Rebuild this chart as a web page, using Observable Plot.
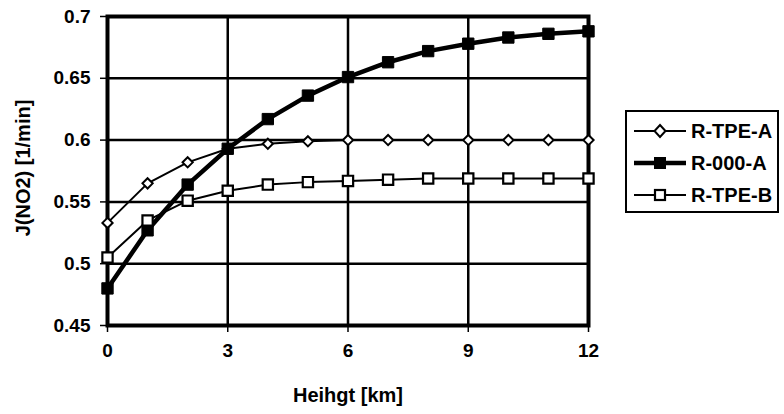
<!DOCTYPE html>
<html>
<head>
<meta charset="utf-8">
<script src="https://cdn.jsdelivr.net/npm/d3@7"></script>
<script src="https://cdn.jsdelivr.net/npm/@observablehq/plot@0.6"></script>
<style>
  body { margin: 0; background: #fff; }
  #wrap { position: relative; width: 784px; height: 414px; font-family: "Liberation Sans", Arial, sans-serif; }
  #legend {
    position: absolute; left: 625px; top: 110px; width: 154px; height: 103px;
    box-sizing: border-box; border: 2px solid #000; background: #fff;
    padding-top: 3px;
  }
  .item { display: flex; align-items: center; height: 32px; }
  .item svg { margin-left: 6px; }
  .item span { font-size: 20px; font-weight: bold; color: #000; margin-left: 4px; }
  #wrap svg.chart text { font-weight: bold; }
</style>
</head>
<body>
<div id="wrap"></div>
<script>
// Photolysis frequency J(NO2) versus height for three runs
const heights = [0, 1, 2, 3, 4, 5, 6, 7, 8, 9, 10, 11, 12];
const rTpeA = [0.533, 0.565, 0.582, 0.593, 0.597, 0.599, 0.600, 0.600, 0.600, 0.600, 0.600, 0.600, 0.600];
const r000A = [0.480, 0.527, 0.564, 0.593, 0.617, 0.636, 0.651, 0.663, 0.672, 0.678, 0.683, 0.686, 0.688];
const rTpeB = [0.505, 0.535, 0.551, 0.559, 0.564, 0.566, 0.567, 0.568, 0.569, 0.569, 0.569, 0.569, 0.569];

const seriesNames = ["R-TPE-A", "R-000-A", "R-TPE-B"];
const xTicks = [0, 3, 6, 9, 12];
const yTicks = [0.45, 0.5, 0.55, 0.6, 0.65, 0.7];

const rows = (name, vals) => heights.map((h, i) => ({series: name, h, j: vals[i]}));
const dataA = rows(seriesNames[0], rTpeA);
const data0 = rows(seriesNames[1], r000A);
const dataB = rows(seriesNames[2], rTpeB);

const font = "Liberation Sans, Arial, sans-serif";

const chart = Plot.plot({
  className: "chart",
  width: 784,
  height: 414,
  marginLeft: 107,
  marginRight: 196,
  marginTop: 16,
  marginBottom: 89,
  style: {fontFamily: font, fontSize: "19px", fontWeight: "bold", color: "#000", background: "#fff"},
  x: {domain: [0, 12]},
  y: {domain: [0.45, 0.7]},
  marks: [
    Plot.gridX(xTicks, {stroke: "#000", strokeOpacity: 1, strokeWidth: 2.5}),
    Plot.gridY(yTicks, {stroke: "#000", strokeOpacity: 1, strokeWidth: 2.5}),
    Plot.frame({stroke: "#000", strokeWidth: 4}),
    Plot.axisX(xTicks, {tickSize: 7, tickPadding: 11, strokeWidth: 1.5, label: null, tickFormat: d => String(d)}),
    Plot.axisY(yTicks, {tickSize: 7, tickPadding: 10, strokeWidth: 1.5, label: null, tickFormat: d => String(+d.toFixed(2))}),
    // series lines
    Plot.line(dataA, {x: "h", y: "j", stroke: "#000", strokeWidth: 2}),
    Plot.line(data0, {x: "h", y: "j", stroke: "#000", strokeWidth: 4.5}),
    Plot.line(dataB, {x: "h", y: "j", stroke: "#000", strokeWidth: 2}),
    // series markers
    Plot.dot(dataA, {x: "h", y: "j", symbol: "diamond2", r: 4.6, fill: "#fff", stroke: "#000", strokeWidth: 2}),
    Plot.dot(data0, {x: "h", y: "j", symbol: "square", r: 6.4, fill: "#000", stroke: "#000", strokeWidth: 1}),
    Plot.dot(dataB, {x: "h", y: "j", symbol: "square", r: 5.8, fill: "#fff", stroke: "#000", strokeWidth: 2.2}),
    // axis titles
    Plot.text(["Heihgt [km]"], {frameAnchor: "bottom", lineAnchor: "middle", dy: 70, fontSize: 20, fill: "#000"}),
    Plot.text(["J(NO2) [1/min]"], {frameAnchor: "left", textAnchor: "middle", lineAnchor: "middle", dx: -84, dy: -3, rotate: -90, fontSize: 20, fill: "#000"})
  ]
});

const wrap = document.getElementById("wrap");
wrap.appendChild(chart);

// legend box
const legend = document.createElement("div");
legend.id = "legend";
const symbols = {
  "R-TPE-A": (g) => g.append("path").attr("d", "M27,4 L32.5,10 L27,16 L21.5,10 Z").attr("fill", "#fff").attr("stroke", "#000").attr("stroke-width", 2),
  "R-000-A": (g) => g.append("rect").attr("x", 21).attr("y", 4).attr("width", 12).attr("height", 12).attr("fill", "#000"),
  "R-TPE-B": (g) => g.append("rect").attr("x", 22).attr("y", 5).attr("width", 10).attr("height", 10).attr("fill", "#fff").attr("stroke", "#000").attr("stroke-width", 2.2)
};
const widths = {"R-TPE-A": 2, "R-000-A": 4.5, "R-TPE-B": 2};
for (const name of seriesNames) {
  const item = d3.select(legend).append("div").attr("class", "item");
  const svg = item.append("svg").attr("width", 54).attr("height", 20);
  svg.append("line").attr("x1", 1).attr("x2", 53).attr("y1", 10).attr("y2", 10)
    .attr("stroke", "#000").attr("stroke-width", widths[name]);
  symbols[name](svg);
  item.append("span").text(name);
}
wrap.appendChild(legend);
</script>
</body>
</html>
